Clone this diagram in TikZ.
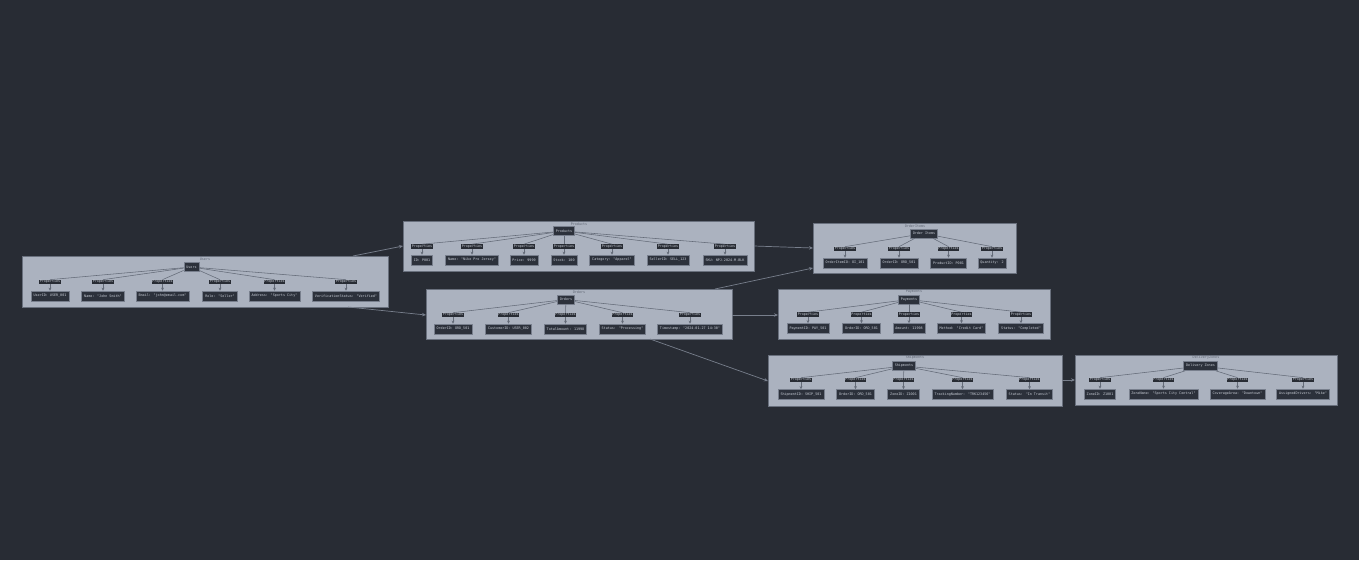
\documentclass[tikz,border=0pt]{standalone}
\usepackage{fontspec}
\newfontfamily\dmono{DejaVu Sans Mono}
\usetikzlibrary{arrows.meta}
\definecolor{bgc}{RGB}{40,44,52}
\definecolor{clfill}{RGB}{171,178,191}
\definecolor{clborder}{RGB}{105,112,125}
\definecolor{cltext}{RGB}{95,102,115}
\definecolor{nodefill}{RGB}{44,49,59}
\definecolor{nodeborder}{RGB}{120,127,141}
\definecolor{txt}{RGB}{200,205,214}
\definecolor{edgec}{RGB}{100,107,120}
\definecolor{linkc}{RGB}{120,127,140}
\begin{document}
\begin{tikzpicture}[x=1pt,y=-1pt,font=\dmono\fontsize{3.4}{4}\selectfont,
  clusterbox/.style={fill=clfill,draw=clborder,line width=0.8pt},
  cltitle/.style={text=cltext,inner sep=0pt},
  rootnode/.style={fill=nodefill,draw=nodeborder,line width=0.7pt,text=txt,inner xsep=2.4pt,inner ysep=0pt,minimum height=9pt},
  leafnode/.style={fill=nodefill,draw=nodeborder,line width=0.7pt,text=txt,inner xsep=2.5pt,inner ysep=0pt,minimum height=10pt},
  proplabel/.style={fill=bgc,text=txt,inner xsep=0.4pt,inner ysep=0.5pt},
  tree/.style={draw=edgec,line width=0.55pt},
  treearrow/.style={draw=edgec,line width=0.55pt,-{Stealth[length=3pt,width=2.8pt]}},
  link/.style={draw=linkc,line width=0.7pt,-{Stealth[length=4pt,width=3.4pt]}}
]
\fill[bgc] (0,0) rectangle (1359,560);
\useasboundingbox (0,0) rectangle (1359,560);

% ---------- clusters ----------
\draw[clusterbox] (22,256) rectangle (388,307);
\node[cltitle] (tu) at (205,259) {Users};
\draw[clusterbox] (403,221) rectangle (754,271);
\node[cltitle] (tp) at (579,224) {Products};
\draw[clusterbox] (813,223) rectangle (1016,273);
\node[cltitle] (ti) at (915,226) {OrderItems};
\draw[clusterbox] (426,289) rectangle (732,339);
\node[cltitle] (to) at (579,292) {Orders};
\draw[clusterbox] (778,289) rectangle (1050,339);
\node[cltitle] (ty) at (914,292) {Payments};
\draw[clusterbox] (768,355) rectangle (1062,406);
\node[cltitle] (ts) at (915,358) {Shipments};
\draw[clusterbox] (1075,355) rectangle (1337,405);
\node[cltitle] (td) at (1206,358) {DeliveryZones};

% ---------- Users ----------
\node[rootnode] (u) at (191.5,267) {Users};
\foreach \xx/\tt [count=\i] in {50/{UserID: USER\_001},103/{Name: "John Smith"},162.5/{Email: "john@email.com"},220/{Role: "Seller"},274.5/{Address: "Sports City"},346/{VerificationStatus: "Verified"}}{
  \node[proplabel] (up\i) at (\xx,282) {Properties};
  \node[leafnode] (ul\i) at (\xx,296) {\tt};
  \draw[tree] (u) -- (up\i.north);
  \draw[treearrow] (up\i) -- (ul\i);
}

% ---------- Products ----------
\node[rootnode] (p) at (564,231) {Products};
\foreach \xx/\tt [count=\i] in {422/{ID: P001},472/{Name: "Nike Pro Jersey"},524/{Price: 9999},564/{Stock: 100},612/{Category: "Apparel"},668/{SellerID: SELL\_123},725/{SKU: NPJ-2024-M-BLK}}{
  \node[proplabel] (pp\i) at (\xx,246.5) {Properties};
  \node[leafnode] (pl\i) at (\xx,260) {\tt};
  \draw[tree] (p) -- (pp\i.north);
  \draw[treearrow] (pp\i) -- (pl\i);
}

% ---------- OrderItems ----------
\node[rootnode] (i) at (924,233.5) {Order Items};
\foreach \xx/\tt [count=\j] in {845/{OrderItemID: OI\_101},899/{OrderID: ORD\_501},948.5/{ProductID: P001},992/{Quantity: 2}}{
  \node[proplabel] (ip\j) at (\xx,249) {Properties};
  \node[leafnode] (il\j) at (\xx,263) {\tt};
  \draw[tree] (i) -- (ip\j.north);
  \draw[treearrow] (ip\j) -- (il\j);
}

% ---------- Orders ----------
\node[rootnode] (o) at (566,299.5) {Orders};
\foreach \xx/\tt [count=\j] in {453/{OrderID: ORD\_501},508.5/{CustomerID: USER\_002},565.5/{TotalAmount: 11998},622.5/{Status: "Processing"},690/{Timestamp: "2024-01-27 14:30"}}{
  \node[proplabel] (op\j) at (\xx,315) {Properties};
  \node[leafnode] (ol\j) at (\xx,329) {\tt};
  \draw[tree] (o) -- (op\j.north);
  \draw[treearrow] (op\j) -- (ol\j);
}

% ---------- Payments ----------
\node[rootnode] (y) at (909,299.5) {Payments};
\foreach \xx/\tt [count=\j] in {808/{PaymentID: PAY\_501},861.5/{OrderID: ORD\_501},909/{Amount: 11998},961.5/{Method: "Credit Card"},1021/{Status: "Completed"}}{
  \node[proplabel] (yp\j) at (\xx,314.5) {Properties};
  \node[leafnode] (yl\j) at (\xx,328.5) {\tt};
  \draw[tree] (y) -- (yp\j.north);
  \draw[treearrow] (yp\j) -- (yl\j);
}

% ---------- Shipments ----------
\node[rootnode] (s) at (904,366) {Shipments};
\foreach \xx/\tt [count=\j] in {801/{ShipmentID: SHIP\_501},855.5/{OrderID: ORD\_501},903.5/{ZoneID: Z1001},962.5/{TrackingNumber: "TRK123456"},1029.5/{Status: "In Transit"}}{
  \node[proplabel] (sp\j) at (\xx,380) {Properties};
  \node[leafnode] (sl\j) at (\xx,394.5) {\tt};
  \draw[tree] (s) -- (sp\j.north);
  \draw[treearrow] (sp\j) -- (sl\j);
}

% ---------- DeliveryZones ----------
\node[rootnode] (d) at (1200.5,366) {Delivery Zones};
\foreach \xx/\tt [count=\j] in {1100/{ZoneID: Z1001},1163.5/{ZoneName: "Sports City Central"},1237.5/{CoverageArea: "Downtown"},1303/{AssignedDrivers: "Mike"}}{
  \node[proplabel] (dp\j) at (\xx,380) {Properties};
  \node[leafnode] (dl\j) at (\xx,394) {\tt};
  \draw[tree] (d) -- (dp\j.north);
  \draw[treearrow] (dp\j) -- (dl\j);
}

% ---------- links between clusters ----------
\coordinate (uA) at (353,256);  \coordinate (pA) at (403,246);
\coordinate (uB) at (348,307);  \coordinate (oA) at (426,315);
\coordinate (pB) at (754,246);  \coordinate (iA) at (813,248);
\coordinate (oB) at (715,289);  \coordinate (iB) at (813,268);
\coordinate (oC) at (732,315);  \coordinate (yA) at (778,315);
\coordinate (oD) at (650,339);  \coordinate (sA) at (768,381);
\coordinate (sB) at (1062,380); \coordinate (dA) at (1075,380);
\draw[link] (uA) -- (pA);
\draw[link] (uB) -- (oA);
\draw[link] (pB) -- (iA);
\draw[link] (oB) -- (iB);
\draw[link] (oC) -- (yA);
\draw[link] (oD) -- (sA);
\draw[link] (sB) -- (dA);
\end{tikzpicture}
\end{document}
